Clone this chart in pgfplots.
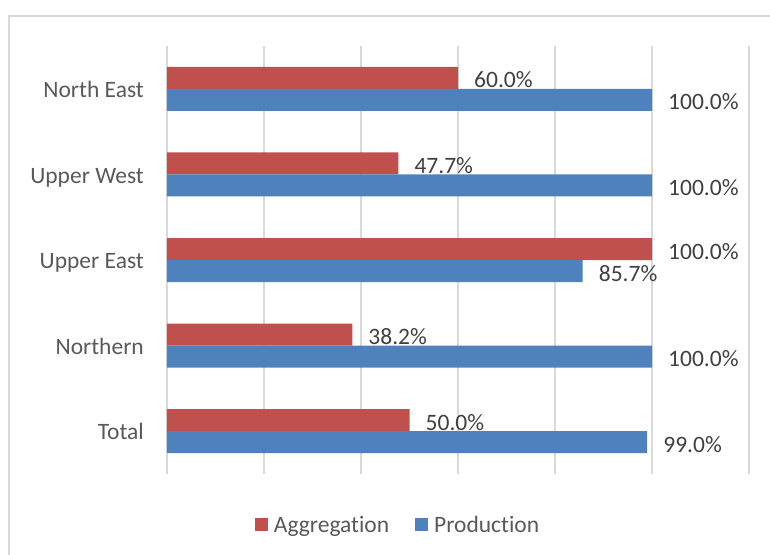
\documentclass[border=0pt]{standalone}
\usepackage{fontspec}
\setmainfont{Carlito}[Ligatures=NoCommon]
\usepackage{pgfplots}
\pgfplotsset{compat=1.18}
\definecolor{aggr}{HTML}{C0504D}
\definecolor{prod}{HTML}{4F81BD}
\definecolor{gridc}{HTML}{D9D9D9}
\definecolor{labc}{HTML}{595959}
\definecolor{datac}{HTML}{404040}
\newcommand{\chartfont}{\fontsize{23.5}{28}\selectfont}
\pgfplotsset{
  sqlegend/.style={legend image code/.code={\fill[##1] (0pt,-6.5pt) rectangle (13pt,6.5pt); \path (17pt,0pt);}}
}
\begin{document}
\begin{tikzpicture}
\useasboundingbox (-167pt,-80pt) rectangle (603pt,474pt);
\draw[gridc, line width=1.5pt] (-158pt,-120pt) -- (-158pt,458pt) -- (650pt,458pt);
\begin{axis}[
  at={(0pt,0pt)}, anchor=south west,
  scale only axis, width=582pt, height=428pt,
  xbar, bar width=22pt,
  xmin=0, xmax=120, ymin=-0.5, ymax=4.5,
  xtick={0,20,...,120}, xticklabels={},
  xmajorgrids, major grid style={draw=gridc, line width=1.3pt},
  ytick={0,1,2,3,4},
  yticklabels={Total,Northern,Upper East,Upper West,North East},
  axis line style={draw=none}, major tick length=0pt,
  yticklabel style={font=\chartfont, text=labc, inner sep=0pt, anchor=base east, yshift=-8.7pt, xshift=-23pt},
  /pgf/number format/assume math mode=true,
  nodes near coords={\pgfmathprintnumber[fixed,fixed zerofill,precision=1]{\pgfplotspointmeta}\%},
  every node near coord/.append style={font=\chartfont, text=datac, anchor=base west, inner sep=0pt, xshift=16pt, yshift=-10pt},
  legend style={at={(rel axis cs:0.397,-0.119)}, anchor=center, draw=none, fill=none,
    legend columns=2, font=\chartfont, text=labc,
    /tikz/every even column/.append style={column sep=24pt}},
]
\addplot[draw=none, fill=aggr, bar shift=11pt, sqlegend] coordinates {
  (50.0,0) (38.2,1) (100.0,2) (47.7,3) (60.0,4)};
\addplot[draw=none, fill=prod, bar shift=-11pt, sqlegend] coordinates {
  (99.0,0) (100.0,1) (85.7,2) (100.0,3) (100.0,4)};
\legend{Aggregation,Production}
\end{axis}
\end{tikzpicture}
\end{document}
